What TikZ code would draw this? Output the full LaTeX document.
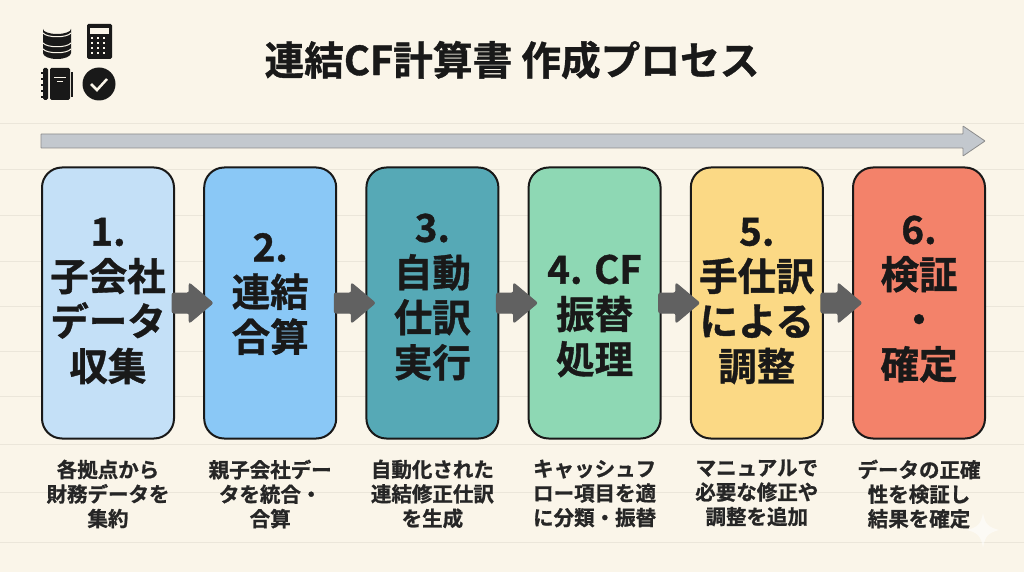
\documentclass[tikz,border=0pt]{standalone}
\usepackage{fontspec}
\setmainfont{Noto Sans CJK JP}[BoldFont={* Bold},BoldFeatures={FakeBold=1}]
\usepackage{xcolor}
\usetikzlibrary{positioning,calc,shapes.arrows,shapes.geometric}
\definecolor{paper}{HTML}{FAF5E9}
\definecolor{rule}{HTML}{EBE6DA}
\definecolor{stepa}{HTML}{C4E0F7}
\definecolor{stepb}{HTML}{8AC8F6}
\definecolor{stepc}{HTML}{56A9B6}
\definecolor{stepd}{HTML}{8ED8B4}
\definecolor{stepe}{HTML}{FBD985}
\definecolor{stepf}{HTML}{F3826A}
\definecolor{band}{HTML}{C3C8CE}
\tikzset{
  stepbox/.style={draw=black!90,line width=2pt,rounded corners=20pt,minimum width=132pt,minimum height=271pt,inner sep=0pt},
  steptext/.style={align=center,font=\fontsize{38.5}{45}\selectfont\bfseries,text=black!90,inner sep=0pt},
  note/.style={below=20pt of #1,align=center,font=\fontsize{20.5}{24.5}\selectfont\bfseries,text=black!85,inner sep=0pt},
  link/.style={single arrow,fill=black!62,draw=black!62,line width=1pt,rounded corners=2pt,inner sep=9.5pt,
    single arrow tip angle=80,single arrow head extend=10pt,single arrow head indent=0pt,minimum height=41pt},
}
\begin{document}
\begin{tikzpicture}[x=1pt,y=-1pt]
\useasboundingbox (0,0) rectangle (1024,572);
\fill[paper] (0,0) rectangle (1024,572);
% ruled lines
\foreach \y in {124,170,215,261,306,351,396,444,492,542}
  \draw[rule,line width=1pt] (0,\y) -- (1024,\y);

\node[font=\fontsize{39.7}{44}\selectfont\bfseries,text=black!90] (title) at (512,60) {連結CF計算書 作成プロセス};

% icons
\fill[black!90] (43,29) arc[start angle=180,end angle=0,x radius=14,y radius=5] -- (71,53) arc[start angle=0,end angle=180,x radius=14,y radius=6] -- cycle;
\foreach \y in {33,43,49}
  \draw[paper,line width=1pt] (43,\y) .. controls (47,\y+5) and (67,\y+5) .. (71,\y);
\fill[black!90,rounded corners=1.5pt] (87,24) rectangle (112,59);
\fill[paper] (90,28) rectangle (109,34);
\foreach \x in {92,98,104} \foreach \y in {38,43,48,53}
  \fill[paper] (\x-1.2,\y-1.2) rectangle +(2.6,2.6);
\fill[black!90,rounded corners=1.5pt] (43,68) rectangle (48,100);
\fill[black!90,rounded corners=1.5pt] (50,68) rectangle (70,100);
\fill[black!90] (71,72) rectangle (73,97);
\foreach \y in {72,78,84,90,96} \fill[black!90] (41,\y) rectangle +(4,1.6);
\draw[paper,line width=1pt] (54,78) -- (66,78) (57,82) -- (63,82);
\node[circle,fill=black!90,minimum size=33pt,inner sep=0pt] (checkicon) at (99,84) {};
\draw[paper,line width=2.5pt] (91,84) -- (97,90) -- (107,79);

% time band
\draw[draw=black!45,fill=band,line width=.8pt,rounded corners=.5pt]
  (41,134) -- (963,134) -- (963,126) -- (985,141) -- (963,156) -- (963,148) -- (41,148) -- cycle;

% steps
\node[stepbox,fill=stepa] (s1) at (108,303) {};
\node[stepbox,fill=stepb,right=28.2pt of s1] (s2) {};
\node[stepbox,fill=stepc,right=28.2pt of s2] (s3) {};
\node[stepbox,fill=stepd,right=28.2pt of s3] (s4) {};
\node[stepbox,fill=stepe,right=28.2pt of s4] (s5) {};
\node[stepbox,fill=stepf,right=28.2pt of s5] (s6) {};

\node[steptext] (t1) at ([yshift=2pt]s1) {1.\\子会社\\データ\\収集};
\node[steptext] (t2) at ([yshift=9pt]s2) {2.\\連結\\合算};
\node[steptext] (t3) at ([yshift=6pt]s3) {3.\\自動\\仕訳\\実行};
\node[steptext] (t4) at ([yshift=-13pt]s4) {4. CF\\振替\\処理};
\node[steptext] (t5) at ([yshift=2pt]s5) {5.\\手仕訳\\による\\調整};
\node[steptext] (t6) at ([yshift=4pt]s6) {6.\\検証\\・\\確定};

\foreach \a/\b in {s1/s2,s2/s3,s3/s4,s4/s5,s5/s6}
  \node[link] (\a\b) at ($(\a.east)!.5!(\b.west)+(-2.5,0)$) {};

\node[note=s1] (n1) {各拠点から\\財務データを\\集約};
\node[note=s2] (n2) {親子会社デー\\タを統合・\\合算};
\node[note=s3] (n3) {自動化された\\連結修正仕訳\\を生成};
\node[note=s4] (n4) {キャッシュフ\\ロー項目を適\\に分類・振替};
\node[note=s5] (n5) {マニュアルで\\必要な修正や\\調整を追加};
\node[note=s6] (n6) {データの正確\\性を検証し\\結果を確定};

% sparkle
\fill[white,opacity=.55] (983,513) .. controls (985,524) and (988,527) .. (999,530) .. controls (988,533) and (985,536) .. (983,548) .. controls (981,536) and (978,533) .. (967,530) .. controls (978,527) and (981,524) .. (983,513) -- cycle;
\end{tikzpicture}
\end{document}
